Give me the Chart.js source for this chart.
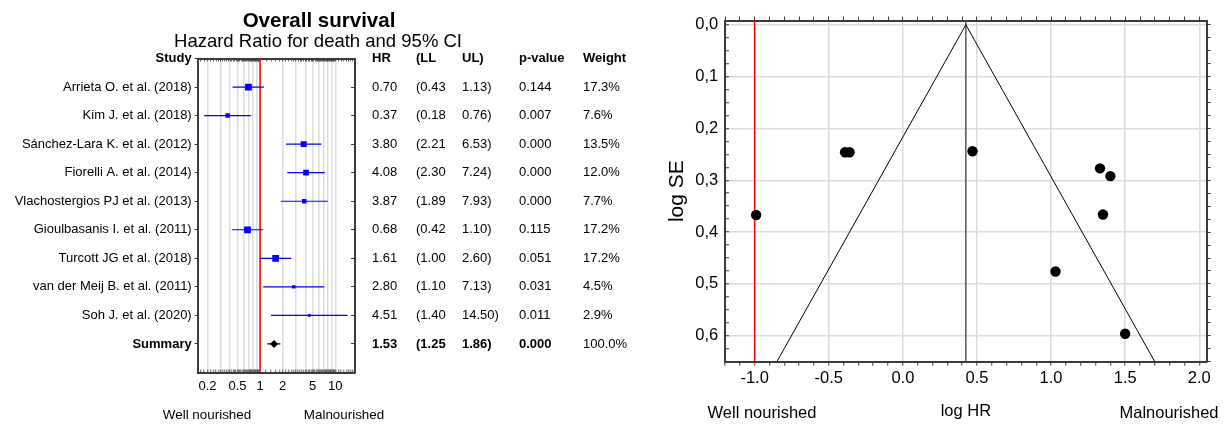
<!DOCTYPE html>
<html>
<head>
<meta charset="utf-8">
<script src="https://cdn.jsdelivr.net/npm/chart.js@4.4.0/dist/chart.umd.min.js"></script>
<style>
  body { margin: 0; background: #fff; width: 1225px; height: 424px; overflow: hidden; position: relative;
         font-family: "Liberation Sans", Arial, sans-serif; }
  canvas { position: absolute; top: 0; }
  .txt { position: absolute; transform: translate(-50%, -50%); white-space: nowrap; line-height: 1; color: #000; }
</style>
</head>
<body>
<canvas id="forest" width="640" height="424" style="left:0"></canvas>
<canvas id="funnel" width="585" height="424" style="left:640px"></canvas>

<div class="txt" style="left:319px;top:20px;font-size:20.5px;font-weight:bold">Overall survival</div>
<div class="txt" style="left:318px;top:41px;font-size:18.5px">Hazard Ratio for death and 95% CI</div>
<div class="txt" style="left:207px;top:415px;font-size:13.4px">Well nourished</div>
<div class="txt" style="left:344px;top:415px;font-size:13.4px">Malnourished</div>
<div class="txt" style="left:762px;top:412px;font-size:16.5px">Well nourished</div>
<div class="txt" style="left:1169px;top:412px;font-size:16.5px">Malnourished</div>

<script>
// forest plot data
const studies = [
  'Arrieta O. et al. (2018)',
  'Kim J. et al. (2018)',
  'Sánchez-Lara K. et al. (2012)',
  'Fiorelli A. et al. (2014)',
  'Vlachostergios PJ et al. (2013)',
  'Gioulbasanis I. et al. (2011)',
  'Turcott JG et al. (2018)',
  'van der Meij B. et al. (2011)',
  'Soh J. et al. (2020)'
];
const hr = [0.70, 0.37, 3.80, 4.08, 3.87, 0.68, 1.61, 2.80, 4.51];
const lowerCI = [0.43, 0.18, 2.21, 2.30, 1.89, 0.42, 1.00, 1.10, 1.40];
const upperCI = [1.13, 0.76, 6.53, 7.24, 7.93, 1.10, 2.60, 7.13, 14.50];
const pValues = ['0.144', '0.007', '0.000', '0.000', '0.000', '0.115', '0.051', '0.031', '0.011'];
const weights = [17.3, 7.6, 13.5, 12.0, 7.7, 17.2, 17.2, 4.5, 2.9];
const summaryHR = 1.53;
const summaryLL = 1.25;
const summaryUL = 1.86;
const summaryP = '0.000';
const summaryWeight = 100.0;

const forestTickLabels = [0.2, 0.5, 1, 2, 5, 10];
const forestGrid = [0.2, 0.3, 0.4, 0.5, 0.6, 0.7, 0.8, 0.9, 1, 2, 3, 4, 5, 6, 7, 8, 9, 10];

// funnel plot data
const funnelLogHR = [-0.36, -0.99, 1.33, 1.40, 1.35, -0.39, 0.47, 1.03, 1.50];
const funnelSE = [0.246, 0.367, 0.277, 0.292, 0.366, 0.246, 0.244, 0.476, 0.596];
const pooledLogHR = 0.425;
const funnelEdgeLeft = -0.85;
const funnelEdgeRight = 1.70;
const funnelEdgeSE = 0.65;
const nullLine = -1.0;
const funnelXLabels = [-1.0, -0.5, 0.0, 0.5, 1.0, 1.5, 2.0];
const funnelYLabels = [0.0, 0.1, 0.2, 0.3, 0.4, 0.5, 0.6];

const fontFamily = '"Liberation Sans", Arial, sans-serif';
Chart.defaults.font.family = fontFamily;
Chart.defaults.color = '#000';
const frameColor = '#3a3a3a';
const gridColor = '#dcdcdc';
const near = (a, b) => Math.abs(a - b) < 1e-9;

// ---------- forest plot ----------
const rows = studies.map((s, i) => i + 1);
const summaryRow = studies.length + 1;
const rowTicks = (scale) => {
  scale.ticks = [];
  for (let i = 0; i <= summaryRow; i++) scale.ticks.push({ value: i });
};

const studyCol = ['Study', ...studies, 'Summary'];
const hrCol = ['HR', ...hr.map(v => v.toFixed(2)), summaryHR.toFixed(2)];
const llCol = ['(LL', ...lowerCI.map(v => '(' + v.toFixed(2)), '(' + summaryLL.toFixed(2)];
const ulCol = ['UL)', ...upperCI.map(v => v.toFixed(2) + ')'), summaryUL.toFixed(2) + ')'];
const pCol = ['p-value', ...pValues, summaryP];
const wCol = ['Weight', ...weights.map(v => v.toFixed(1) + '%'), summaryWeight.toFixed(1) + '%'];

// minor log ticks along the frame
const logMinor = [];
for (let k = 16; k < 100; k += 2) logMinor.push(k / 100);
for (let k = 10; k < 100; k += 2) logMinor.push(k / 10);
for (let k = 10; k <= 18; k++) logMinor.push(k);

function columnAxis(labels, width, padding, weight, boldSummary, frame) {
  return {
    position: 'right', weight: weight, min: 0, max: 11, reverse: true,
    afterBuildTicks: rowTicks,
    afterFit: (s) => { s.width = width; },
    border: { display: frame, color: frameColor, width: 2 },
    grid: { drawOnChartArea: false, drawTicks: frame, tickLength: -4, tickColor: frameColor, tickWidth: 1 },
    ticks: {
      padding: padding, autoSkip: false, color: '#000',
      callback: (v, i) => labels[i],
      font: (ctx) => ({
        family: fontFamily, size: 13,
        weight: (ctx.index === 0 || (boldSummary && ctx.index === summaryRow)) ? 'bold' : 'normal'
      })
    }
  };
}

const forestSets = [];
forestSets.push({
  data: hr.map((v, i) => ({ x: v, y: rows[i] })),
  showLine: false, pointStyle: 'rect',
  pointRadius: weights.map(w => 1.15 * Math.sqrt(w)),
  backgroundColor: '#0000ff', borderWidth: 0
});
forestSets.push({
  data: [{ x: summaryHR, y: summaryRow }],
  showLine: false, pointStyle: 'rectRot', pointRadius: 4,
  backgroundColor: '#000', borderWidth: 0
});
studies.forEach((s, i) => {
  forestSets.push({
    data: [{ x: lowerCI[i], y: rows[i] }, { x: upperCI[i], y: rows[i] }],
    showLine: true, pointRadius: 0, borderColor: '#0000ff', borderWidth: 1.2
  });
});
forestSets.push({
  data: [{ x: summaryLL, y: summaryRow }, { x: summaryUL, y: summaryRow }],
  showLine: true, pointRadius: 0, borderColor: '#000', borderWidth: 1.2
});
forestSets.push({
  data: [{ x: 1, y: 0 }, { x: 1, y: 11 }],
  showLine: true, pointRadius: 0, borderColor: '#ff0000', borderWidth: 1.5
});

new Chart(document.getElementById('forest'), {
  type: 'scatter',
  data: { datasets: forestSets },
  options: {
    responsive: false, animation: false, events: [],
    layout: { padding: 0 },
    plugins: { legend: { display: false }, tooltip: { enabled: false } },
    scales: {
      x: {
        type: 'logarithmic', position: 'bottom', min: 0.147, max: 18.3,
        afterBuildTicks: (s) => { s.ticks = logMinor.map(v => ({ value: v })); },
        afterFit: (s) => { s.height = 51.5; },
        border: { color: frameColor, width: 2 },
        grid: {
          color: (ctx) => (ctx.tick && forestGrid.some(g => near(g, ctx.tick.value))) ? gridColor : 'rgba(0,0,0,0)',
          lineWidth: 1.5, tickLength: -3, tickColor: frameColor, tickWidth: 0.8
        },
        ticks: {
          autoSkip: false, maxRotation: 0, padding: 8.7, font: { size: 13 },
          callback: (v) => forestTickLabels.some(t => near(t, v)) ? String(v) : ''
        }
      },
      xTop: {
        type: 'logarithmic', position: 'top', min: 0.147, max: 18.3,
        afterBuildTicks: (s) => { s.ticks = logMinor.map(v => ({ value: v })); },
        afterFit: (s) => { s.height = 58.5; },
        border: { color: frameColor, width: 2 },
        grid: { drawOnChartArea: false, tickLength: -3, tickColor: frameColor, tickWidth: 0.8 },
        ticks: { display: false }
      },
      y: {
        position: 'left', min: 0, max: 11, reverse: true,
        afterBuildTicks: rowTicks,
        afterFit: (s) => { s.width = 197.5; },
        border: { color: frameColor, width: 2 },
        grid: { drawOnChartArea: false, tickLength: 3, tickColor: frameColor, tickWidth: 1 },
        ticks: {
          padding: 2.8, autoSkip: false,
          callback: (v, i) => studyCol[i],
          font: (ctx) => ({
            family: fontFamily, size: 13,
            weight: (ctx.index === 0 || ctx.index === summaryRow) ? 'bold' : 'normal'
          })
        }
      },
      yHR: columnAxis(hrCol, 61, 21, 1, true, true),
      yLL: columnAxis(llCol, 46, 0, 2, true, false),
      yUL: columnAxis(ulCol, 57, 0, 3, true, false),
      yP: columnAxis(pCol, 64, 0, 4, true, false),
      yW: columnAxis(wCol, 57, 0, 5, false, false)
    }
  }
});

// ---------- funnel plot ----------
const xMin = -1.2, xMax = 2.05, yMin = -0.008, yMax = 0.65;
const funnelXTicks = [];
for (let k = -12; k <= 20; k++) funnelXTicks.push(k / 10);
const funnelYTicks = [];
for (let k = 0; k <= 26; k++) funnelYTicks.push(k / 40);

const isXMajor = (v) => funnelXLabels.some(t => near(t, v));
const isYMajor = (v) => funnelYLabels.some(t => near(t, v));

new Chart(document.getElementById('funnel'), {
  type: 'scatter',
  data: {
    datasets: [
      {
        data: funnelLogHR.map((v, i) => ({ x: v, y: funnelSE[i] })),
        showLine: false, pointRadius: 5.2, backgroundColor: '#000', borderWidth: 0
      },
      {
        data: [{ x: funnelEdgeLeft, y: funnelEdgeSE }, { x: pooledLogHR, y: 0 }, { x: funnelEdgeRight, y: funnelEdgeSE }],
        showLine: true, pointRadius: 0, borderColor: '#000', borderWidth: 1
      },
      {
        data: [{ x: pooledLogHR, y: yMin }, { x: pooledLogHR, y: yMax }],
        showLine: true, pointRadius: 0, borderColor: '#555', borderWidth: 1.5
      },
      {
        data: [{ x: nullLine, y: yMin }, { x: nullLine, y: yMax }],
        showLine: true, pointRadius: 0, borderColor: '#ff0000', borderWidth: 1.5
      }
    ]
  },
  options: {
    responsive: false, animation: false, events: [],
    layout: { padding: 0 },
    plugins: { legend: { display: false }, tooltip: { enabled: false } },
    scales: {
      x: {
        type: 'linear', position: 'bottom', min: xMin, max: xMax,
        afterBuildTicks: (s) => { s.ticks = funnelXTicks.map(v => ({ value: v })); },
        afterFit: (s) => { s.height = 62.3; },
        border: { color: frameColor, width: 2 },
        grid: {
          color: (ctx) => (ctx.tick && isXMajor(ctx.tick.value)) ? gridColor : 'rgba(0,0,0,0)',
          lineWidth: 1.5, tickLength: 4, tickColor: frameColor, tickWidth: 1
        },
        ticks: {
          autoSkip: false, maxRotation: 0, padding: 2.7, font: { size: 16.5 },
          callback: (v) => isXMajor(v) ? v.toFixed(1) : ''
        },
        title: { display: true, text: 'log HR', font: { size: 16.5 }, padding: { top: 0, bottom: 2.4 } }
      },
      xTop: {
        type: 'linear', position: 'top', min: xMin, max: xMax,
        afterBuildTicks: (s) => { s.ticks = funnelXTicks.map(v => ({ value: v })); },
        afterFit: (s) => { s.height = 15.7; },
        border: { color: frameColor, width: 2 },
        grid: { drawOnChartArea: false, tickLength: 4, tickColor: frameColor, tickWidth: 1 },
        ticks: { display: false }
      },
      y: {
        type: 'linear', position: 'left', min: yMin, max: yMax, reverse: true,
        afterBuildTicks: (s) => { s.ticks = funnelYTicks.map(v => ({ value: v })); },
        afterFit: (s) => { s.width = 85; },
        border: { color: frameColor, width: 2 },
        grid: {
          color: (ctx) => (ctx.tick && isYMajor(ctx.tick.value)) ? gridColor : 'rgba(0,0,0,0)',
          lineWidth: 1.5, tickLength: -4, tickColor: frameColor, tickWidth: 1
        },
        ticks: {
          autoSkip: false, padding: 10.7, font: { size: 16.5 },
          callback: (v) => isYMajor(v) ? v.toFixed(1).replace('.', ',') : ''
        },
        title: { display: true, text: 'log SE', font: { size: 21 }, padding: { top: 24.4, bottom: 0 } }
      },
      yRight: {
        type: 'linear', position: 'right', min: yMin, max: yMax, reverse: true,
        afterBuildTicks: (s) => { s.ticks = funnelYTicks.map(v => ({ value: v })); },
        afterFit: (s) => { s.width = 18.3; },
        border: { color: frameColor, width: 2 },
        grid: { drawOnChartArea: false, tickLength: 4, tickColor: frameColor, tickWidth: 1 },
        ticks: { display: false }
      }
    }
  }
});
</script>
</body>
</html>
